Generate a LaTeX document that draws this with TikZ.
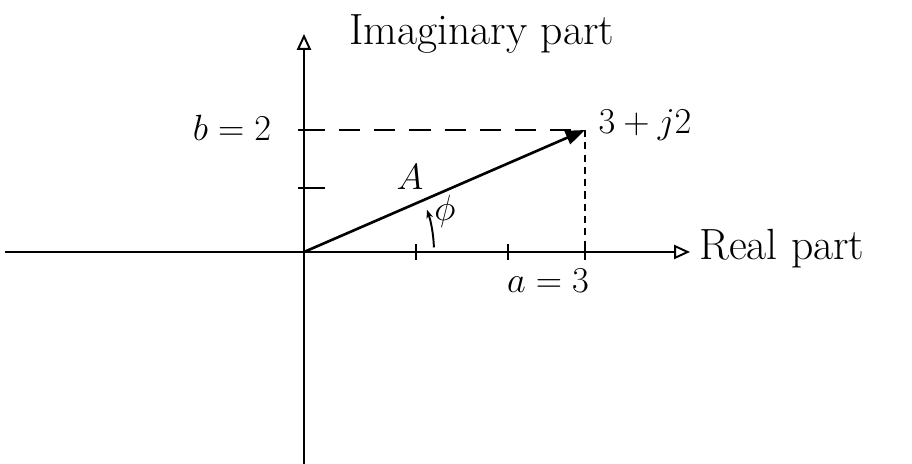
\documentclass[tikz,border=0pt]{standalone}
\usetikzlibrary{arrows.meta}
\begin{document}
\begin{tikzpicture}[line width=1.1pt,
  lbl/.style={font=\huge},
  word/.style={font=\Huge},
  axisarrow/.style={-{Triangle[open,length=9pt,width=8pt]}}]
\useasboundingbox (0,0) rectangle (18.24,9.28);
\coordinate (O) at (6.08,4.24);
\coordinate (xl) at (0.1,4.24);
\coordinate (xr) at (13.8,4.24);
\coordinate (yb) at (6.08,0);
\coordinate (yt) at (6.08,8.6);
\coordinate (P) at (11.7,6.68);
\coordinate (Pb) at (6.08,6.68);
\coordinate (Pa) at (11.7,4.24);

\draw[axisarrow] (xl) -- (xr);
\draw[axisarrow] (yb) -- (yt);

% ticks
\draw (8.32,4.08) -- (8.32,4.4);
\draw (10.16,4.08) -- (10.16,4.4);
\draw (11.7,4.08) -- (11.7,4.4);
\draw (5.96,5.52) -- (6.5,5.52);
\draw (5.96,6.68) -- (6.3,6.68);

\draw[dashed,dash pattern=on 12pt off 8pt] (Pb) -- (P);
\draw[dashed,dash pattern=on 4pt off 3pt,line width=0.6pt] (P) -- (Pa);
\draw[-{Triangle[length=11pt,width=8pt]},line width=1.5pt] (O) -- (P);

% angle
\draw[-{Stealth[length=5pt]}] ([shift={(2:2.6)}]O) arc[start angle=2,end angle=19,radius=2.6];

\node[word,anchor=west] (imag) at (6.85,8.6) {Imaginary part};
\node[word,anchor=west] (real) at (13.85,4.3) {Real part};
\node[lbl] (pt) at (12.9,6.78) {$3+j2$};
\node[lbl] (bl) at (4.64,6.72) {$b=2$};
\node[lbl] (al) at (10.96,3.66) {$a=3$};
\node[lbl] (Al) at (8.2,5.74) {$A$};
\node[lbl] (phi) at (8.9,5.06) {$\phi$};
\end{tikzpicture}
\end{document}
